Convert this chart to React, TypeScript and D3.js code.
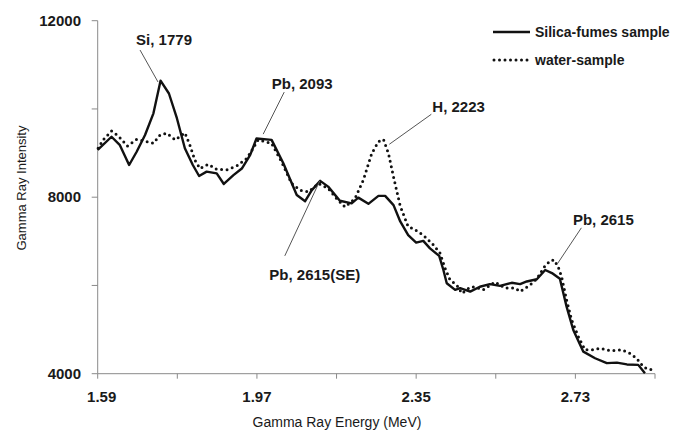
import React from "react";
import * as d3 from "d3";

// Silica-fumes sample spectrum: energy (MeV) and intensity
const silicaEnergy = [
  1.59, 1.623, 1.643, 1.665, 1.683, 1.703, 1.723, 1.74, 1.76, 1.779, 1.798, 1.817, 1.832, 1.85,
  1.874, 1.891, 1.914, 1.934, 1.954, 1.969, 2.005, 2.033, 2.065, 2.085, 2.101, 2.121, 2.14, 2.168,
  2.196, 2.212, 2.236, 2.26, 2.276, 2.296, 2.312, 2.331, 2.35, 2.367, 2.383, 2.405, 2.415, 2.423,
  2.443, 2.455, 2.479, 2.502, 2.526, 2.55, 2.578, 2.598, 2.614, 2.638, 2.658, 2.674, 2.693, 2.709,
  2.725, 2.749, 2.777, 2.805, 2.829, 2.853, 2.88, 2.896,
];
const silicaIntensity = [
  9070, 9370, 9180, 8730, 9030, 9410, 9900, 10640, 10350, 9790, 9110, 8730, 8480, 8580,
  8540, 8300, 8500, 8650, 8960, 9330, 9300, 8770, 8050, 7910, 8160, 8370, 8240, 7920,
  7860, 7990, 7850, 8030, 8030, 7820, 7450, 7140, 6970, 7010, 6840, 6670, 6350, 6050,
  5900, 5940, 5860, 5970, 6030, 5990, 6060, 6030, 6090, 6140, 6350, 6280, 6150, 5520,
  4990, 4500, 4350, 4240, 4250, 4210, 4200, 4010,
];

// Water-sample spectrum: energy (MeV) and intensity
const waterEnergy = [
  1.591, 1.603, 1.623, 1.639, 1.661, 1.683, 1.707, 1.723, 1.739, 1.755, 1.775, 1.798, 1.81, 1.822,
  1.834, 1.854, 1.874, 1.898, 1.922, 1.946, 1.973, 2.005, 2.029, 2.053, 2.073, 2.093, 2.117, 2.14,
  2.16, 2.18, 2.204, 2.224, 2.244, 2.26, 2.272, 2.284, 2.296, 2.312, 2.331, 2.343, 2.367, 2.391,
  2.407, 2.419, 2.431, 2.447, 2.459, 2.479, 2.49, 2.51, 2.538, 2.562, 2.586, 2.598, 2.622, 2.638,
  2.655, 2.67, 2.679, 2.689, 2.697, 2.709, 2.721, 2.737, 2.753, 2.773, 2.789, 2.813, 2.841, 2.86,
  2.876, 2.892, 2.904, 2.92,
];
const waterIntensity = [
  9110, 9300, 9500, 9390, 9160, 9310, 9260, 9220, 9410, 9450, 9300, 9460, 9180, 8840,
  8650, 8750, 8630, 8620, 8710, 8880, 9300, 9220, 8800, 8310, 8160, 8120, 8310, 8200,
  7970, 7780, 7970, 8390, 8990, 9260, 9310, 8990, 8460, 7800, 7330, 7290, 7140, 6920,
  6730, 6390, 6120, 6010, 5820, 5960, 5970, 5900, 6080, 5940, 5940, 5860, 6010, 6150,
  6410, 6560, 6580, 6420, 6200, 5670, 5220, 4840, 4540, 4540, 4580, 4520, 4540, 4460,
  4350, 4160, 4100, 4080,
];

// Axis ticks
const xTickValues = [1.59, 1.78, 1.97, 2.16, 2.35, 2.54, 2.73, 2.92];
const xTickLabels = ["1.59", "", "1.97", "", "2.35", "", "2.73", ""];
const yTickValues = [4000, 6000, 8000, 10000, 12000];
const yTickLabels = ["4000", "", "8000", "", "12000"];

// Series names
const seriesNames = ["Silica-fumes sample", "water-sample"];

// Peak annotations: label and the peak energy/intensity the leader points at
const peakLabels = ["Si, 1779", "Pb, 2093", "H, 2223", "Pb, 2615(SE)", "Pb, 2615"];
const peakEnergy = [1.734, 1.985, 2.286, 2.12, 2.687];
const peakIntensity = [10610, 9430, 9200, 8370, 6490];

const W = 684;
const H = 432;
const FONT = "'Liberation Sans', Arial, sans-serif";

export default function App() {
  const x = d3.scaleLinear().domain([1.59, 2.92]).range([97.7, 655]);
  const y = d3.scaleLinear().domain([4000, 12000]).range([373.7, 20.7]);

  const line = d3
    .line<[number, number]>()
    .x((d) => x(d[0]))
    .y((d) => y(d[1]));

  const silica: [number, number][] = silicaEnergy.map((e, i) => [e, silicaIntensity[i]]);
  const water: [number, number][] = waterEnergy.map((e, i) => [e, waterIntensity[i]]);

  // leader end offset (lx, ly) from the peak point, text offset and alignment
  const placements = [
    { lx: -18, ly: -32, tx: 6, ty: -37, anchor: "middle" },
    { lx: 21, ly: -42, tx: 39, ty: -45, anchor: "middle" },
    { lx: 42, ly: -30, tx: 43, ty: -32, anchor: "start" },
    { lx: -35, ly: 75, tx: -5, ty: 99, anchor: "middle" },
    { lx: 24, ly: -36, tx: 46, ty: -39, anchor: "middle" },
  ];

  return (
    <svg
      width={W}
      height={H}
      style={{ position: "absolute", left: 0, top: 0, background: "#fff" }}
      fontFamily={FONT}
    >
      <rect width={W} height={H} fill="#fff" />

      {/* y axis */}
      <line x1={x(1.59)} x2={x(1.59)} y1={y(12000)} y2={y(4000)} stroke="#8a8a8a" strokeWidth={1} />
      {yTickValues.map((v, i) => (
        <g key={"yt" + v}>
          <line x1={x(1.59) - 6} x2={x(1.59)} y1={y(v)} y2={y(v)} stroke="#8a8a8a" strokeWidth={1} />
          {yTickLabels[i] && (
            <text
              x={81}
              y={y(v)}
              dy="0.35em"
              textAnchor="end"
              fontSize={15}
              fontWeight="bold"
              fill="#1a1a1a"
            >
              {yTickLabels[i]}
            </text>
          )}
        </g>
      ))}

      {/* x axis */}
      <line x1={x(1.59)} x2={x(2.92)} y1={y(4000)} y2={y(4000)} stroke="#8a8a8a" strokeWidth={1} />
      {xTickValues.map((v, i) => (
        <g key={"xt" + v}>
          <line x1={x(v)} x2={x(v)} y1={y(4000)} y2={y(4000) + 5} stroke="#8a8a8a" strokeWidth={1} />
          {xTickLabels[i] && (
            <text
              x={x(v) + (i === 0 ? 4 : 0)}
              y={402}
              textAnchor="middle"
              fontSize={15}
              fontWeight="bold"
              fill="#1a1a1a"
            >
              {xTickLabels[i]}
            </text>
          )}
        </g>
      ))}

      {/* axis titles */}
      <text x={337} y={427} textAnchor="middle" fontSize={14} fill="#1a1a1a">
        Gamma Ray Energy (MeV)
      </text>
      <text
        transform={`translate(26,188) rotate(-90)`}
        textAnchor="middle"
        fontSize={13}
        fill="#1a1a1a"
      >
        Gamma Ray Intensity
      </text>

      {/* spectra */}
      <path
        d={line(water) || ""}
        fill="none"
        stroke="#111"
        strokeWidth={3}
        strokeLinecap="round"
        strokeDasharray="0 5.5"
      />
      <path d={line(silica) || ""} fill="none" stroke="#111" strokeWidth={2.4} strokeLinejoin="round" />

      {/* peak annotations */}
      {peakLabels.map((lab, i) => {
        const px = x(peakEnergy[i]);
        const py = y(peakIntensity[i]);
        const p = placements[i];
        return (
          <g key={lab}>
            <line x1={px} y1={py} x2={px + p.lx} y2={py + p.ly} stroke="#555" strokeWidth={1} />
            <text
              x={px + p.tx}
              y={py + p.ty}
              textAnchor={p.anchor as any}
              fontSize={15}
              fontWeight="bold"
              fill="#1a1a1a"
            >
              {lab}
            </text>
          </g>
        );
      })}

      {/* legend */}
      <line x1={493} x2={530} y1={32} y2={32} stroke="#111" strokeWidth={2.4} />
      <text x={535} y={37} fontSize={14} fontWeight="bold" fill="#1a1a1a">
        {seriesNames[0]}
      </text>
      <line
        x1={494}
        x2={528}
        y1={60}
        y2={60}
        stroke="#111"
        strokeWidth={3}
        strokeLinecap="round"
        strokeDasharray="0 5.5"
      />
      <text x={535} y={65} fontSize={14} fontWeight="bold" fill="#1a1a1a">
        {seriesNames[1]}
      </text>
    </svg>
  );
}
